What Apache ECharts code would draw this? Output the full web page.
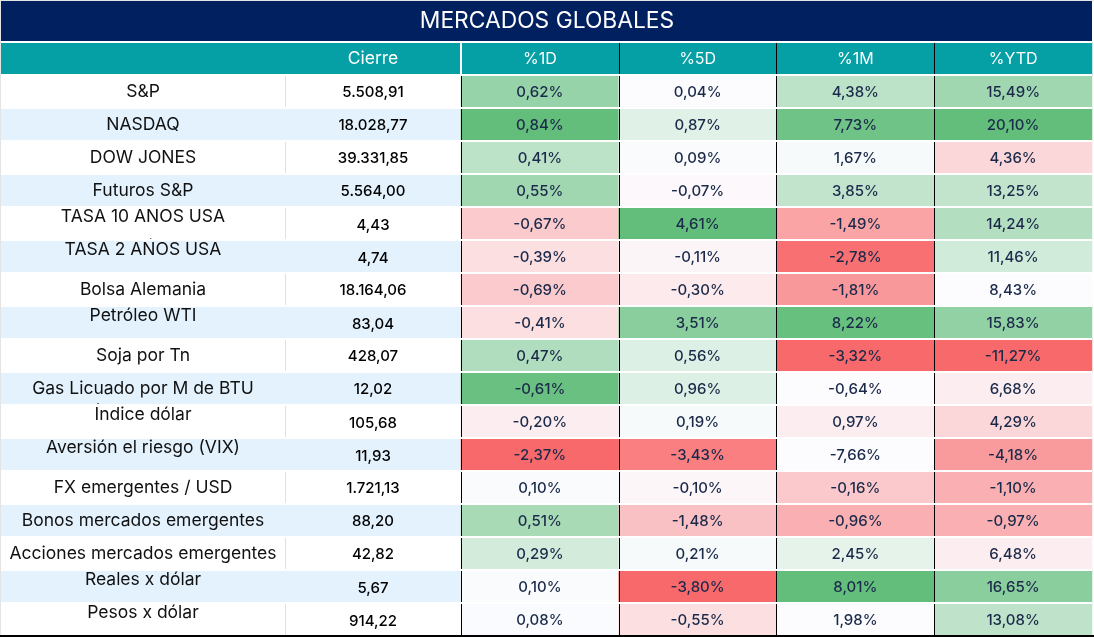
<!DOCTYPE html>
<html><head><meta charset="utf-8">
<style>html,body{margin:0;padding:0;background:#fff}#c{width:1094px;height:637px}</style>
<script src="https://cdn.jsdelivr.net/npm/echarts@6/dist/echarts.min.js"></script></head>
<body><div id="c"></div>
<script>
const titleText = 'MERCADOS GLOBALES';
const names = ['S&P','NASDAQ','DOW JONES','Futuros S&P','TASA 10 ANOS USA','TASA 2 AÑOS USA','Bolsa Alemania','Petróleo WTI','Soja por Tn','Gas Licuado por M de BTU','Índice dólar','Aversión el riesgo (VIX)','FX emergentes / USD','Bonos mercados emergentes','Acciones mercados emergentes','Reales x dólar','Pesos x dólar'];
const raised = [0,0,0,0,1,1,0,1,0,0,1,1,0,0,0,1,1];
const closeValues = [5508.91,18028.77,39331.85,5564.00,4.43,4.74,18164.06,83.04,428.07,12.02,105.68,11.93,1721.13,88.20,42.82,5.67,914.22];
const pctHeaders = ['%1D','%5D','%1M','%YTD'];
const pct1D  = [0.62,0.84,0.41,0.55,-0.67,-0.39,-0.69,-0.41,0.47,-0.61,-0.20,-2.37,0.10,0.51,0.29,0.10,0.08];
const pct5D  = [0.04,0.87,0.09,-0.07,4.61,-0.11,-0.30,3.51,0.56,0.96,0.19,-3.43,-0.10,-1.48,0.21,-3.80,-0.55];
const pct1M  = [4.38,7.73,1.67,3.85,-1.49,-2.78,-1.81,8.22,-3.32,-0.64,0.97,-7.66,-0.16,-0.96,2.45,8.01,1.98];
const pctYTD = [15.49,20.10,4.36,13.25,14.24,11.46,8.43,15.83,-11.27,6.68,4.29,-4.18,-1.10,-0.97,6.48,16.65,13.08];
// colour-scale position of each cell (-1 red, 0 white, 1 green)
const shade1D  = [.66,1,.42,.6,-.34,-.2,-.34,-.2,.5,.96,-.1,-1,.02,.55,.27,.02,.01];
const shade5D  = [0,.18,.02,-.03,1,-.05,-.12,.75,.2,.2,.04,-.85,-.04,-.4,.04,-1,-.2];
const shade1M  = [.42,.92,.03,.38,-.6,-.95,-.68,.97,-1,0,-.1,0,-.35,-.52,.15,1,0];
const shadeYTD = [.6,1,-.25,.38,.48,.28,0,.7,-1,-.1,-.25,-.66,-.52,-.52,-.1,.75,.4];

const fmt = v => { const s = Math.abs(v).toFixed(2).split('.');
  return (v<0?'-':'') + s[0].replace(/\B(?=(\d{3})+$)/g,'.') + ',' + s[1]; };
const FONT = 'Inter';
const NAVY='#002060', TEAL='#059FA6', BLUE='#E3F2FD', CLEAR='rgba(255,255,255,0)';
const rows = [''].concat(names);
const rowFill = i => i%2 ? BLUE : CLEAR;

const nameData = [{value:[0,0,0],itemStyle:{color:TEAL},label:{formatter:''}}].concat(names.map((n,i)=>({
  value:[0,i+1,i], itemStyle:{color:rowFill(i)}, label:{formatter:n, offset:[0, raised[i]?-7:0]}})));
const closeData = [{value:[0,0,0],itemStyle:{color:TEAL},label:{formatter:'Cierre',color:'#fff',fontSize:17.5,fontWeight:400,offset:[0,0]}}].concat(closeValues.map((v,i)=>({
  value:[0,i+1,v], itemStyle:{color:rowFill(i)}, label:{formatter:fmt(v), offset:[0, raised[i]?2:1]}})));
const headData = pctHeaders.map((h,c)=>[c,0,0]);
const pctData = [];
[[pct1D,shade1D],[pct5D,shade5D],[pct1M,shade1M],[pctYTD,shadeYTD]].forEach((pair,c)=>{
  pair[0].forEach((v,i)=>pctData.push([c,i+1,v,pair[1][i]]));
});

const grids = [{left:1,width:284,top:42,height:594},{left:285,width:176,top:42,height:594},{left:461,width:631,top:42,height:594}];
const hairlines = {show:true,interval:0,lineStyle:{color:'#fff',width:2},showMaxLine:false};
const yAx = g => ({type:'category',gridIndex:g,data:rows,inverse:true,z:5,axisLine:{show:false},axisTick:{show:false},axisLabel:{show:false},splitLine:hairlines});
const xAx = (g,cats,split,z) => ({type:'category',gridIndex:g,data:cats,z,axisLine:{show:false},axisTick:{show:false},axisLabel:{show:false},splitLine:split});

const option = {
  animation:false,
  backgroundColor:'#fff',
  title:{text:titleText,left:'center',top:5,textStyle:{color:'#fff',fontFamily:FONT,fontSize:22.8,fontWeight:400}},
  grid:grids,
  xAxis:[
    xAx(0,['Activo'],{show:false},1),
    xAx(1,['Cierre'],{show:true,interval:0,showMaxLine:false,lineStyle:{color:'#E0E0E0',width:1}},1),
    xAx(2,pctHeaders,{show:true,interval:0,showMaxLine:false,lineStyle:{color:'#000',width:1}},3)
  ],
  yAxis:[yAx(0),yAx(1),yAx(2)],
  visualMap:[{show:false,type:'continuous',seriesIndex:2,dimension:3,min:-1,max:1,inRange:{color:['#F8696B','#FCFCFF','#63BE7B']}}],
  series:[
    {type:'heatmap',xAxisIndex:0,yAxisIndex:0,z:2,data:nameData,
     label:{show:true,fontFamily:FONT,fontSize:17.5,color:'#111'}},
    {type:'heatmap',xAxisIndex:1,yAxisIndex:1,z:2,data:closeData,
     label:{show:true,fontFamily:FONT,fontSize:15,fontWeight:500,color:'#000'}},
    {type:'heatmap',xAxisIndex:2,yAxisIndex:2,z:2,data:pctData,
     label:{show:true,fontFamily:FONT,fontSize:15,fontWeight:500,color:'#1B2A4A',offset:[0,0.5],formatter:p=>fmt(p.data[2])+'%'}},
    {type:'heatmap',xAxisIndex:2,yAxisIndex:2,z:2,data:headData,itemStyle:{color:TEAL},
     label:{show:true,fontFamily:FONT,fontSize:16,color:'#fff',offset:[0,1],formatter:p=>pctHeaders[p.data[0]]}}
  ],
  graphic:[
    {type:'rect',z:-1,shape:{x:1,y:1,width:1091,height:40},style:{fill:NAVY}},
    {type:'rect',z:50,shape:{x:460,y:43,width:2,height:31},style:{fill:'#fff'}},
    {type:'rect',z:50,shape:{x:0,y:635,width:1094,height:2},style:{fill:'#000'}},
    {type:'rect',z:50,shape:{x:0,y:0,width:1094,height:1},style:{fill:'#E4E4E4'}},
    {type:'rect',z:50,shape:{x:0,y:0,width:1,height:635},style:{fill:'#E4E4E4'}}
  ]
};
const chart = echarts.init(document.getElementById('c'));
chart.setOption(option);
</script></body></html>
